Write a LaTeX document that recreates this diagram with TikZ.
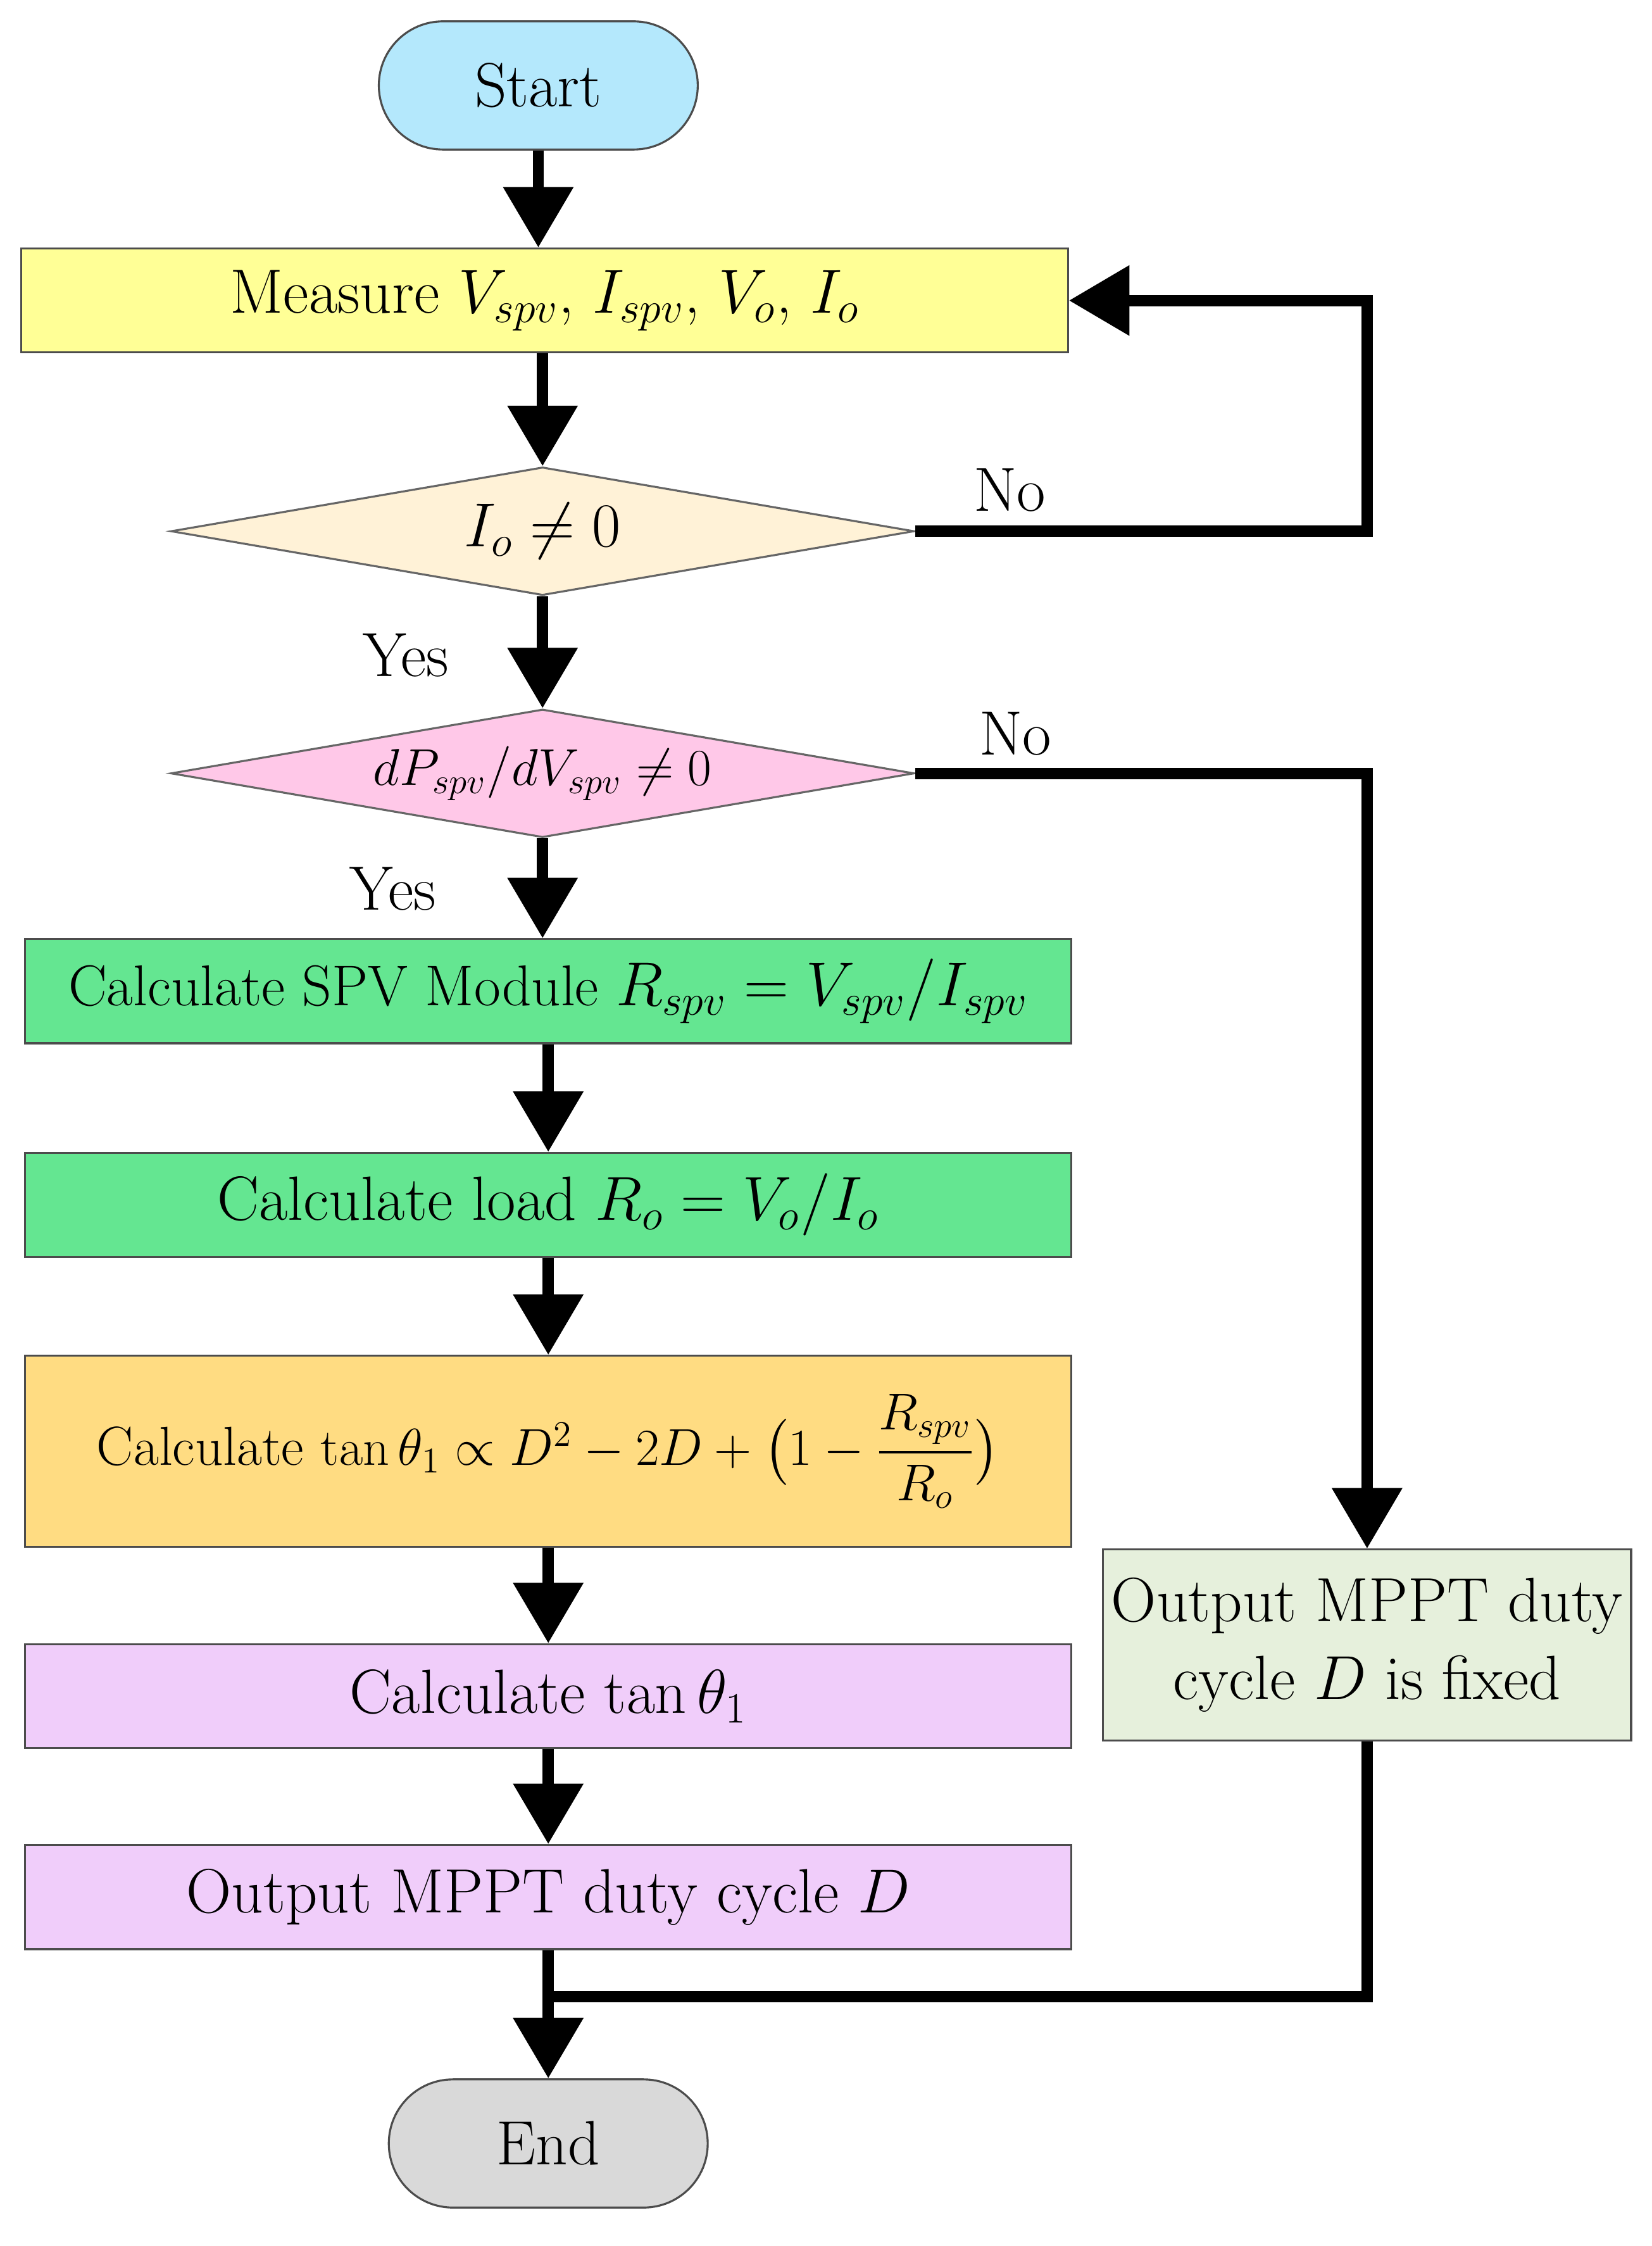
\documentclass[tikz,border=0pt]{standalone}
\usepackage{amsmath,amssymb}
\usetikzlibrary{shapes.geometric,arrows.meta}
\definecolor{cstart}{RGB}{180,232,252}
\definecolor{cmeas}{RGB}{255,255,150}
\definecolor{cd1}{RGB}{255,242,215}
\definecolor{cd2}{RGB}{255,200,232}
\definecolor{cgreen}{RGB}{100,230,145}
\definecolor{corange}{RGB}{255,220,130}
\definecolor{cviol}{RGB}{240,205,250}
\definecolor{cend}{RGB}{217,217,217}
\definecolor{cfix}{RGB}{230,240,220}
\begin{document}
\begin{tikzpicture}[x=0.02cm,y=-0.02cm,
  every node/.style={font=\fontsize{25}{31}\selectfont},
  box/.style={draw=black!70,line width=0.8pt,inner sep=0pt,minimum width=14.7cm,minimum height=1.46cm},
  term/.style={draw=black!70,line width=0.8pt,rounded corners=0.9cm,minimum width=4.48cm,minimum height=1.8cm},
  dia/.style={draw=black!60,line width=0.8pt,diamond,aspect=5.8,inner sep=0pt,minimum width=10.44cm,minimum height=1.8cm},
  arr/.style={line width=4.5pt,-{Triangle[length=0.85cm,width=0.95cm]}},
  ln/.style={line width=4.5pt}]
\useasboundingbox (0,0) rectangle (1160,1577);
\node[term,fill=cstart] (start) at (378,60) {Start};
\node[box,fill=cmeas] (meas) at (382.5,211) {Measure $V_{spv}$, $I_{spv}$, $V_o$, $I_o$};
\node[dia,fill=cd1] (d1) at (381,373) {$I_o\neq 0$};
\node[dia,fill=cd2] (d2) at (381,543) {\fontsize{21}{25}\selectfont$dP_{spv}/dV_{spv}\neq 0$};
\node[box,fill=cgreen] (spv) at (385,696) {\fontsize{23}{28}\selectfont Calculate SPV Module $R_{spv}=V_{spv}/I_{spv}$};
\node[box,fill=cgreen] (load) at (385,846) {Calculate load $R_o=V_o/I_o$};
\node[box,fill=corange,minimum height=2.68cm] (tan) at (385,1019) {\fontsize{22}{27}\selectfont Calculate $\tan\theta_1\propto D^2-2D+\bigl(1-\dfrac{R_{spv}}{R_o}\bigr)$};
\node[box,fill=cviol] (ct) at (385,1191) {Calculate $\tan\theta_1$};
\node[box,fill=cviol] (out) at (385,1332) {Output MPPT duty cycle $D$};
\node[term,fill=cend] (end) at (385,1505) {End};
\node[draw=black!70,line width=0.8pt,fill=cfix,minimum width=7.28cm,minimum height=2.68cm,align=center] (fix) at (960,1155) {Output MPPT duty\\cycle $D$ is fixed};
\coordinate (c1) at (960,373); \coordinate (c2) at (960,211);
\coordinate (c3) at (960,543); \coordinate (c4) at (960,1402); \coordinate (c5) at (385,1402);
\draw[arr] (start) -- (start|-meas.north);
\draw[arr] (meas.south-|d1) -- (d1.north);
\draw[arr] (d1) -- (d2.north);
\draw[arr] (d2) -- (spv.north-|d2);
\draw[arr] (spv) -- (load);
\draw[arr] (load) -- (tan);
\draw[arr] (tan) -- (ct);
\draw[arr] (ct) -- (out);
\draw[arr] (out) -- (end);
\draw[arr] (d1.east) -- (c1) -- (c2) -- (meas.east);
\draw[arr] (d2.east) -- (c3) -- (fix.north);
\draw[ln] (fix.south) -- (c4) -- (c5);
\node at (709,344) {No};
\node at (713,515) {No};
\node at (285,460) {Yes};
\node at (276,624) {Yes};
\end{tikzpicture}
\end{document}
